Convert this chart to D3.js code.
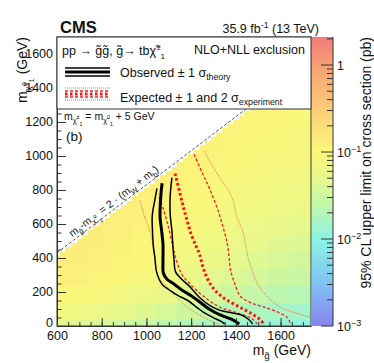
<!DOCTYPE html>
<html>
<head>
<meta charset="utf-8">
<title>gluino limit</title>
<script src="https://cdn.jsdelivr.net/npm/d3@7/dist/d3.min.js"></script>
<style>
  body { margin: 0; background: #fff; }
  text { font-family: "Liberation Sans", Arial, Helvetica, sans-serif; fill: #111; }
</style>
</head>
<body>
<div id="chart"></div>
<script>
// ---- data ----
// upper limit grid, pb: columns = gluino mass, rows = LSP mass
var gluinoCols = [600, 700, 800, 900, 1000, 1100, 1200, 1300, 1400, 1500, 1600, 1700];
var lspRows = [0, 100, 200, 300, 400, 500, 600, 700, 800, 900, 1000, 1100, 1200, 1300, 1400, 1500, 1600];
var limitTable = [
  [0.048, 0.044, 0.039, 0.034, 0.029, 0.024, 0.020, 0.017, 0.015, 0.013, 0.012, 0.011],
  [0.072, 0.066, 0.058, 0.051, 0.044, 0.036, 0.030, 0.025, 0.021, 0.018, 0.016, 0.015],
  [0.108, 0.100, 0.090, 0.078, 0.065, 0.053, 0.043, 0.036, 0.030, 0.026, 0.023, 0.021],
  [0.125, 0.120, 0.110, 0.098, 0.083, 0.068, 0.056, 0.047, 0.040, 0.034, 0.030, 0.027],
  [0.130, 0.128, 0.120, 0.110, 0.096, 0.080, 0.067, 0.056, 0.048, 0.042, 0.037, 0.033],
  [0.130, 0.130, 0.126, 0.118, 0.106, 0.092, 0.078, 0.066, 0.057, 0.050, 0.044, 0.040],
  [0.130, 0.130, 0.130, 0.124, 0.114, 0.101, 0.088, 0.076, 0.066, 0.058, 0.052, 0.047],
  [0.130, 0.130, 0.132, 0.128, 0.120, 0.109, 0.097, 0.085, 0.075, 0.067, 0.060, 0.055],
  [0.130, 0.130, 0.132, 0.130, 0.125, 0.116, 0.105, 0.094, 0.084, 0.076, 0.069, 0.063],
  [0.130, 0.130, 0.132, 0.130, 0.128, 0.121, 0.112, 0.102, 0.092, 0.084, 0.077, 0.071],
  [0.130, 0.130, 0.132, 0.130, 0.128, 0.125, 0.118, 0.109, 0.100, 0.092, 0.085, 0.079],
  [0.130, 0.130, 0.132, 0.130, 0.128, 0.128, 0.122, 0.115, 0.107, 0.099, 0.092, 0.087],
  [0.130, 0.130, 0.132, 0.130, 0.128, 0.128, 0.125, 0.120, 0.113, 0.106, 0.099, 0.094],
  [0.130, 0.130, 0.132, 0.130, 0.128, 0.128, 0.125, 0.124, 0.118, 0.112, 0.106, 0.101],
  [0.130, 0.130, 0.132, 0.130, 0.128, 0.128, 0.125, 0.124, 0.122, 0.117, 0.111, 0.107],
  [0.130, 0.130, 0.132, 0.130, 0.128, 0.128, 0.125, 0.124, 0.122, 0.120, 0.116, 0.112],
  [0.130, 0.130, 0.132, 0.130, 0.128, 0.128, 0.125, 0.124, 0.122, 0.120, 0.120, 0.116]
];
var binWidth = 25;        // GeV, histogram bin size
var minSplitting = 200;   // GeV, last populated bin below diagonal
var diagOffset = 169;     // 2*(mW + mb)

// exclusion contours [m_gluino, m_lsp]
var observed = [[1070,840],[1064,760],[1061,640],[1068,560],[1074,480],[1074,380],[1076,310],[1092,275],[1120,250],[1160,210],[1200,178],[1240,140],[1275,105],[1330,65],[1380,40],[1415,12]];
var observedDown = [[1047,810],[1036,730],[1026,650],[1027,560],[1031,470],[1038,400],[1045,320],[1070,245],[1110,205],[1140,180],[1185,150],[1225,110],[1258,78],[1300,48],[1330,30],[1350,12]];
var observedUp = [[1114,873],[1106,760],[1106,660],[1114,560],[1119,460],[1124,380],[1130,320],[1160,272],[1195,230],[1240,165],[1290,115],[1330,92],[1390,75],[1430,62],[1460,35],[1475,12]];
var expected = [[1128,897],[1150,780],[1165,700],[1182,620],[1200,540],[1222,470],[1238,420],[1252,350],[1272,280],[1300,220],[1340,170],[1390,130],[1440,95],[1480,65],[1510,35],[1525,12]];
var expectedDown = [[1056,756],[1075,690],[1095,600],[1119,463],[1135,380],[1160,300],[1200,240],[1260,170],[1330,110],[1400,80],[1470,45],[1495,12]];
var expectedUp = [[1213,1010],[1250,900],[1285,800],[1320,680],[1347,563],[1362,480],[1370,400],[1376,330],[1395,250],[1420,175],[1470,135],[1526,111],[1590,80],[1630,50],[1645,12]];
var expectedDown2 = [[971,738],[990,650],[1015,560],[1025,504],[1032,440],[1040,380],[1047,310],[1065,265],[1092,229],[1130,175],[1182,111],[1230,70],[1280,35],[1329,6]];
var expectedUp2 = [[1258,1030],[1300,930],[1340,850],[1383,756],[1405,640],[1430,560],[1441,490],[1455,400],[1475,320],[1500,240],[1548,164],[1600,110],[1660,80],[1705,62],[1740,50]];

var xTicks = [600, 800, 1000, 1200, 1400, 1600];
var yTicks = [0, 200, 400, 600, 800, 1000, 1200, 1400, 1600];
var zTicks = [1, 0.1, 0.01, 0.001];
var zTickLabels = [["1", ""], ["10", "\u22121"], ["10", "\u22122"], ["10", "\u22123"]];

// palette stops (log10 of pb)
var paletteLogs = [-3, -2.5, -2, -1.6, -1.3, -1, -0.75, -0.5, 0, 0.32];
var paletteColors = ["#8a82ee", "#80c4f4", "#8cf3e4", "#c2f7a8", "#e8f88a", "#fbf77a", "#fce47a", "#fccb78", "#f8a074", "#f27a7a"];

// ---- layout ----
var W = 374, H = 363;
var L = 57, R = 311, T = 37, B = 326;
var svg = d3.select("#chart").append("svg").attr("width", W).attr("height", H);

var x = d3.scaleLinear().domain([600, 1736]).range([L, R]);
var y = d3.scaleLinear().domain([0, 1700]).range([B, T]);
var z = d3.scaleLog().domain([1e-3, 2.1]).range([B, T]);
var pal = d3.scaleLinear().domain(paletteLogs).range(paletteColors).interpolate(d3.interpolateRgb).clamp(true);
function colorOf(v) { return pal(Math.log10(v)); }

svg.append("clipPath").attr("id", "plotclip").append("rect")
  .attr("x", L).attr("y", T).attr("width", R - L).attr("height", B - T);

var plot = svg.append("g").attr("clip-path", "url(#plotclip)");

// heat map bins
var bins = [];
d3.range(600, 1750, binWidth).forEach(function(mg) {
  d3.range(0, mg - minSplitting + 1, binWidth).forEach(function(ml) {
    var c = Math.max(0, Math.min(gluinoCols.length - 1, Math.round((mg - gluinoCols[0]) / 100)));
    var r = Math.max(0, Math.min(lspRows.length - 1, Math.round(ml / 100)));
    bins.push({ mg: mg, ml: ml, v: limitTable[r][c] });
  });
});
plot.selectAll("rect.bin").data(bins).enter().append("rect")
  .attr("class", "bin")
  .attr("x", function(d) { return x(d.mg - binWidth / 2); })
  .attr("y", function(d) { return y(d.ml + binWidth / 2); })
  .attr("width", x(binWidth) - x(0) + 0.5)
  .attr("height", y(0) - y(binWidth) + 0.5)
  .attr("fill", function(d) { return colorOf(d.v); })
  .attr("shape-rendering", "crispEdges");

// kinematic diagonal
plot.append("line")
  .attr("x1", x(600)).attr("y1", y(600 - diagOffset))
  .attr("x2", x(1900)).attr("y2", y(1900 - diagOffset))
  .attr("stroke", "#555").attr("stroke-width", 1).attr("stroke-dasharray", "3,2");

var line = d3.line().x(function(d) { return x(d[0]); }).y(function(d) { return y(d[1]); })
  .curve(d3.curveCatmullRom.alpha(0.5));

var styles = [
  { data: expectedDown2, stroke: "#ee7050", w: 1, dash: "1,1" },
  { data: expectedUp2, stroke: "#ee7050", w: 1, dash: "1,1" },
  { data: expectedDown, stroke: "#ee2020", w: 1.3, dash: "3,2" },
  { data: expectedUp, stroke: "#ee2020", w: 1.3, dash: "3,2" },
  { data: expected, stroke: "#ff1010", w: 3, dash: "2.5,2.5" },
  { data: observedDown, stroke: "#000", w: 1.5, dash: null },
  { data: observedUp, stroke: "#000", w: 1.5, dash: null },
  { data: observed, stroke: "#000", w: 3, dash: null }
];
plot.selectAll("path.contour").data(styles).enter().append("path")
  .attr("class", "contour")
  .attr("d", function(d) { return line(d.data); })
  .attr("fill", "none")
  .attr("stroke", function(d) { return d.stroke; })
  .attr("stroke-width", function(d) { return d.w; })
  .attr("stroke-dasharray", function(d) { return d.dash; });

// rich text helper: parts = [text, scale, rise]
function rich(g, parts, size) {
  var prev = 0;
  parts.forEach(function(p) {
    var rise = p[2] || 0;
    g.append("tspan").text(p[0])
      .attr("font-size", size * (p[1] || 1))
      .attr("dy", prev - rise);
    prev = rise;
  });
  return g;
}
var chi = "\u03C7\u0303", gl = "g\u0303";

// diagonal label
var ang = Math.atan2(y(1000) - y(1100), x(1100) - x(1000)) * 180 / Math.PI;
var p0 = [x(668), y(668 - diagOffset) - 4];
rich(svg.append("text").attr("transform", "translate(" + p0[0] + "," + p0[1] + ") rotate(" + (-ang) + ")"),
  [["m", 1, 0], [gl, 0.7, -3], ["-m", 1, 0], [chi, 0.7, -3], ["0", 0.5, 1], ["1", 0.5, -6], [" = 2 \u00B7 (m", 1, 0], ["W", 0.7, -3], [" + m", 1, 0], ["b", 0.7, -3], [")", 1, 0]], 10.5);

// frame
svg.append("rect").attr("x", L).attr("y", T).attr("width", R - L).attr("height", B - T)
  .attr("fill", "none").attr("stroke", "#333").attr("stroke-width", 1);

// axes with inward ticks
function minorVals(a, b, s) { return d3.range(a, b + 1, s); }
function styleAxis(g) {
  g.select(".domain").attr("stroke", "#333");
  g.selectAll("line").attr("stroke", "#333");
  g.selectAll("text").attr("font-size", 12.5).attr("font-family", "Liberation Sans, Arial, sans-serif").attr("fill", "#111");
}
svg.append("g").attr("transform", "translate(0," + B + ")")
  .call(d3.axisBottom(x).tickValues(minorVals(600, 1700, 50)).tickFormat("").tickSizeInner(-4).tickSizeOuter(0))
  .call(function(g) { g.select(".domain").remove(); g.selectAll("line").attr("stroke", "#333"); });
svg.append("g").attr("transform", "translate(0," + B + ")")
  .call(d3.axisBottom(x).tickValues(xTicks).tickFormat(d3.format("d")).tickSizeInner(-8).tickSizeOuter(0).tickPadding(5))
  .call(styleAxis);
svg.append("g").attr("transform", "translate(" + L + ",0)")
  .call(d3.axisLeft(y).tickValues(minorVals(0, 1700, 50)).tickFormat("").tickSizeInner(-4.5).tickSizeOuter(0))
  .call(function(g) { g.select(".domain").remove(); g.selectAll("line").attr("stroke", "#333"); });
svg.append("g").attr("transform", "translate(" + L + ",0)")
  .call(d3.axisLeft(y).tickValues(yTicks).tickFormat(d3.format("d")).tickSizeInner(-9).tickSizeOuter(0).tickPadding(4))
  .call(styleAxis)
  .call(function(g) { g.selectAll("text").attr("dy", function(d) { return d === 0 ? "0.02em" : "0.25em"; }); });

// legend box
var lg = svg.append("g");
lg.append("rect").attr("x", L).attr("y", T).attr("width", R - L).attr("height", 72)
  .attr("fill", "#fff").attr("stroke", "#333").attr("stroke-width", 1);
rich(lg.append("text").attr("x", 62).attr("y", 55),
  [["pp \u2192 " + gl + gl + ", " + gl + "\u2192 tb" + chi, 1, 0], ["\u00B1", 0.65, 5], ["1", 0.65, -4]], 12.5);
lg.append("text").attr("x", 305).attr("y", 54).attr("text-anchor", "end").attr("font-size", 12.5).text("NLO+NLL exclusion");
[[68, 1.5], [72, 3], [76, 1.5]].forEach(function(o) {
  lg.append("line").attr("x1", 65).attr("x2", 110).attr("y1", o[0]).attr("y2", o[0])
    .attr("stroke", "#000").attr("stroke-width", o[1]);
});
rich(lg.append("text").attr("x", 120).attr("y", 77),
  [["Observed \u00B1 1 \u03C3", 1, 0], ["theory", 0.7, -3]], 12.5);
[[88, 1, "#ee7050", "1,1"], [100, 1, "#ee7050", "1,1"], [91, 1.3, "#ee2020", "3,2"], [97, 1.3, "#ee2020", "3,2"], [94, 3, "#ff1010", "2.5,2.5"]].forEach(function(o) {
  lg.append("line").attr("x1", 65).attr("x2", 110).attr("y1", o[0]).attr("y2", o[0])
    .attr("stroke", o[2]).attr("stroke-width", o[1]).attr("stroke-dasharray", o[3]);
});
rich(lg.append("text").attr("x", 120).attr("y", 102),
  [["Expected \u00B1 1 and 2 \u03C3", 1, 0], ["experiment", 0.7, -3]], 12.5);

// annotations
rich(svg.append("text").attr("x", 64).attr("y", 120),
  [["m", 1, 0], [chi, 0.7, -3], ["\u00B1", 0.5, 1], ["1", 0.5, -6], [" = m", 1, 0], [chi, 0.7, -3], ["0", 0.5, 1], ["1", 0.5, -6], [" + 5 GeV", 1, 0]], 10.5);
svg.append("text").attr("x", 66).attr("y", 141).attr("font-size", 13.5).text("(b)");

svg.append("text").attr("x", 60).attr("y", 33).attr("font-size", 16.5).attr("font-weight", "bold").text("CMS");
rich(svg.append("text").attr("x", 319).attr("y", 33).attr("text-anchor", "end"),
  [["35.9 fb", 1, 0], ["-1", 0.7, 5], [" (13 TeV)", 1, 0]], 12.5);

// axis titles
rich(svg.append("text").attr("x", 311).attr("y", 355).attr("text-anchor", "end"),
  [["m", 1, 0], [gl, 0.7, -4], [" (GeV)", 1, 0]], 14);
rich(svg.append("text").attr("transform", "translate(27,37) rotate(-90)").attr("text-anchor", "end"),
  [["m", 1, 0], [chi, 0.7, -4], ["0", 0.5, 0], ["1", 0.5, -7], [" (GeV)", 1, 0]], 14);

// colour bar
var cb = svg.append("g");
cb.selectAll("rect.cb").data(d3.range(T, B, 1)).enter().append("rect")
  .attr("x", 312).attr("y", function(d) { return d; }).attr("width", 21).attr("height", 1.2)
  .attr("fill", function(d) { return colorOf(z.invert(d + 0.5)); })
  .attr("shape-rendering", "crispEdges");
var minorZ = [];
[0.001, 0.01, 0.1, 1].forEach(function(dec) {
  d3.range(2, 10).forEach(function(k) { if (dec * k < 2.1) minorZ.push(dec * k); });
});
cb.selectAll("line.minor").data(minorZ).enter().append("line")
  .attr("x1", 327).attr("x2", 333).attr("y1", function(d) { return z(d); }).attr("y2", function(d) { return z(d); })
  .attr("stroke", "#333");
cb.selectAll("line.major").data(zTicks).enter().append("line")
  .attr("x1", 321).attr("x2", 333).attr("y1", function(d) { return z(d); }).attr("y2", function(d) { return z(d); })
  .attr("stroke", "#333");
cb.append("line").attr("x1", 333).attr("x2", 333).attr("y1", T).attr("y2", B).attr("stroke", "#333");
zTicks.forEach(function(t, i) {
  var lab = zTickLabels[i];
  var tx = cb.append("text").attr("x", 337).attr("y", z(t) + 4.5).attr("font-size", 12.5);
  tx.append("tspan").text(lab[0]);
  if (lab[1]) tx.append("tspan").text(lab[1]).attr("font-size", 9).attr("dy", -5);
});
svg.append("text").attr("transform", "translate(371,37) rotate(-90)").attr("text-anchor", "end")
  .attr("font-size", 14).text("95% CL upper limit on cross section (pb)");
</script>
</body>
</html>
